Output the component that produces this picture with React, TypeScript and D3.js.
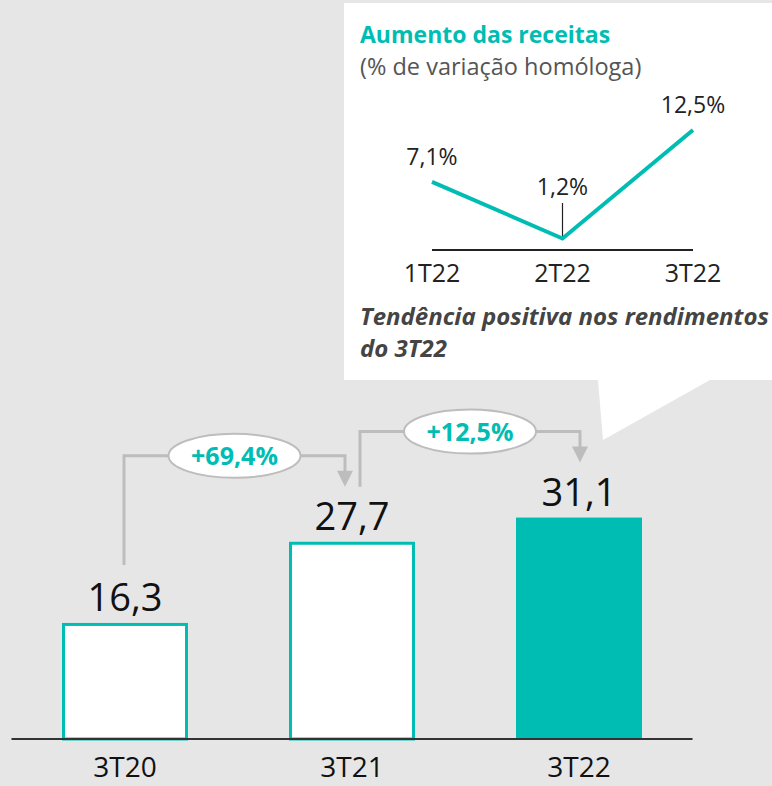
import React from "react";
import * as d3 from "d3";

const categories = ["3T20", "3T21", "3T22"];
const values = [16.3, 27.7, 31.1];
const valueLabels = ["16,3", "27,7", "31,1"];
const changeLabels = ["+69,4%", "+12,5%"];

const insetCategories = ["1T22", "2T22", "3T22"];
const insetValues = [7.1, 1.2, 12.5];
const insetLabels = ["7,1%", "1,2%", "12,5%"];

const TEAL = "#00bdb3";
const GRAY = "#bdbdbd";
const FONT = "'Open Sans', 'Noto Sans', sans-serif";

export default function App() {
  const W = 772, H = 786;
  const x = d3.scaleBand<string>().domain(categories).range([11.5, 692.5]).paddingInner(0.445).paddingOuter(0.2225);
  const y = d3.scaleLinear().domain([0, 35]).range([739, 739 - 35 * 7.12]);
  const bw = x.bandwidth();
  const cx = (c: string) => (x(c) as number) + bw / 2;

  const ix = d3.scalePoint<string>().domain(insetCategories).range([432, 693]);
  const iy = d3.scaleLinear().domain([0, 12.5]).range([250, 130]);
  const line = d3.line<number>().x((_, i) => ix(insetCategories[i]) as number).y((d) => iy(d));

  const callout = "M344,3 L772,3 L772,380 L710,380 L603,440 L598,380 L344,380 Z";

  return (
    <svg width={W} height={H} style={{ position: "absolute", left: 0, top: 0 }} fontFamily={FONT}>
      <rect x={0} y={0} width={W} height={H} fill="#e6e6e6" />
      <path d={callout} fill="#ffffff" />

      {/* inset */}
      <text x={360} y={43} fill={TEAL} fontSize={23} fontWeight={700}>Aumento das receitas</text>
      <text x={360} y={75} fill="#555" fontSize={23.5}>(% de variação homóloga)</text>
      <line x1={432} x2={693} y1={iy(0)} y2={iy(0)} stroke="#222" strokeWidth={2} />
      <line x1={ix("2T22")} x2={ix("2T22")} y1={203} y2={iy(insetValues[1])} stroke="#222" strokeWidth={1.2} />
      <path d={line(insetValues) || ""} fill="none" stroke={TEAL} strokeWidth={4} />
      {insetValues.map((v, i) => {
        const offs = [17, 43, 17];
        return (
          <text key={i} x={ix(insetCategories[i])} y={iy(v) - offs[i]} textAnchor="middle" fontSize={23} fill="#222">{insetLabels[i]}</text>
        );
      })}
      {insetCategories.map((c) => (
        <text key={c} x={ix(c)} y={282} textAnchor="middle" fontSize={25} fill="#222">{c}</text>
      ))}
      <text x={360} y={325} fill="#444" fontSize={24} fontWeight={700} fontStyle="italic">Tendência positiva nos rendimentos</text>
      <text x={360} y={357} fill="#444" fontSize={24} fontWeight={700} fontStyle="italic">do 3T22</text>

      {/* connectors */}
      {changeLabels.map((lab, i) => {
        const from = categories[i], to = categories[i + 1];
        const x1 = cx(from) + (i === 0 ? -1 : 8);
        const x2 = cx(to) + (i === 0 ? -7 : 1);
        const yBottom = y(values[i]) - (i === 0 ? 58 : 55);
        const tip = y(values[i + 1]) - 55;
        const yh = y(values[i + 1]) - 86;
        const mx = (x1 + x2) / 2 + 0;
        return (
          <g key={i}>
            <path d={`M${x1},${yBottom} L${x1},${yh} L${x2},${yh} L${x2},${tip - 14}`} fill="none" stroke={GRAY} strokeWidth={3} />
            <path d={`M${x2 - 8},${tip - 16} L${x2 + 8},${tip - 16} L${x2},${tip} Z`} fill={GRAY} />
            <ellipse cx={mx} cy={yh} rx={66} ry={22} fill="#fff" stroke={GRAY} strokeWidth={2} />
            <text x={mx} y={yh + 9} textAnchor="middle" fontSize={25} fontWeight={700} fill={TEAL}>{lab}</text>
          </g>
        );
      })}

      {/* bars */}
      {categories.map((c, i) => {
        const last = i === categories.length - 1;
        return (
          <g key={c}>
            {last ? (
              <rect x={x(c)} y={y(values[i])} width={bw} height={y(0) - y(values[i])} fill={TEAL} />
            ) : (
              <rect x={(x(c) as number) + 1.5} y={y(values[i]) + 1.5} width={bw - 3} height={y(0) - y(values[i]) - 1.5} fill="#fff" stroke={TEAL} strokeWidth={3} />
            )}
            <text x={cx(c)} y={y(values[i]) - 12} textAnchor="middle" fontSize={38} fill="#111">{valueLabels[i]}</text>
            <text x={cx(c)} y={777} textAnchor="middle" fontSize={28} fill="#111">{c}</text>
          </g>
        );
      })}
      <line x1={11.5} x2={692.5} y1={y(0)} y2={y(0)} stroke="#333" strokeWidth={2} />
    </svg>
  );
}
